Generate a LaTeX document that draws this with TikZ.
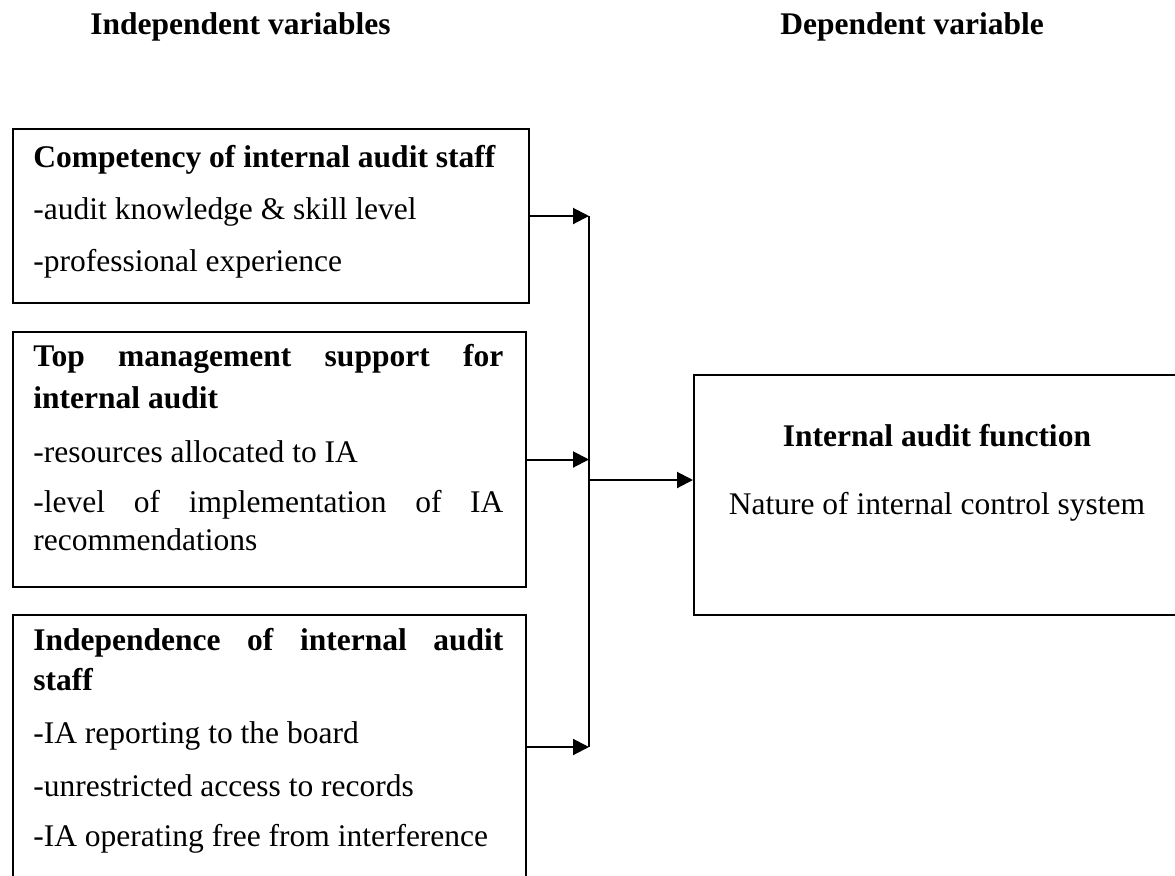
\documentclass[tikz,border=0pt]{standalone}
\usepackage{fontspec}
\setmainfont{Liberation Serif}
\usetikzlibrary{arrows.meta}
\begin{document}
\begin{tikzpicture}[x=0.5pt,y=-0.5pt,
  box/.style={draw,line width=1pt,rectangle,anchor=north west,inner sep=0pt},
  txt/.style={anchor=base west,inner sep=0pt,font=\fontsize{15.75}{18}\selectfont},
  hd/.style={anchor=base west,inner sep=0pt,font=\fontsize{15.75}{18}\selectfont\bfseries},
  arr/.style={line width=1pt,-{Triangle[length=8pt,width=8pt]}},
  ln/.style={line width=1pt}]
\useasboundingbox (0,0) rectangle (1175,875);
% headers
\node[hd] (h1) at (90,34) {Independent variables};
\node[hd] (h2) at (780,34) {Dependent variable};
% boxes
\node[box,minimum width=258pt,minimum height=87pt] (b1) at (12,128) {};
\node[box,minimum width=256.5pt,minimum height=127.5pt] (b2) at (12,331) {};
\node[box,minimum width=256.5pt,minimum height=132pt] (b3) at (12,614) {};
\node[box,minimum width=243.5pt,minimum height=120pt] (b4) at (693,374) {};
\coordinate (b4in) at (693,480);
% box 1 text
\node[hd] (t11) at (33,167) {Competency of internal audit staff};
\node[txt] (t12) at (33,219) {-audit knowledge \& skill level};
\node[txt] (t13) at (33,271) {-professional experience};
% box 2 text
\node[hd] (t21) at (33,366) {\makebox[235pt][s]{Top management support for}};
\node[hd] (t22) at (33,408) {internal audit};
\node[txt] (t23) at (33,462) {-resources allocated to IA};
\node[txt] (t24) at (33,512) {\makebox[235pt][s]{-level of implementation of IA}};
\node[txt] (t25) at (33,550) {recommendations};
% box 3 text
\node[hd] (t31) at (33,650) {\makebox[235pt][s]{Independence of internal audit}};
\node[hd] (t32) at (33,690) {staff};
\node[txt] (t33) at (33,743) {-IA reporting to the board};
\node[txt] (t34) at (33,796) {-unrestricted access to records};
\node[txt] (t35) at (33,846) {-IA operating free from interference};
% box 4 text
\node[hd,anchor=base] (t41) at (937,446) {Internal audit function};
\node[txt,anchor=base] (t42) at (937,514) {Nature of internal control system};
% connectors
\coordinate (bus) at (589,0);
\draw[arr] (b1.east) -- (b1.east -| bus);
\draw[arr] (b2.east) -- (b2.east -| bus);
\draw[arr] (b3.east) -- (b3.east -| bus);
\draw[ln] (b1.east -| bus) -- (b3.east -| bus);
\draw[arr] (bus |- b4in) -- (b4in);
\end{tikzpicture}
\end{document}
